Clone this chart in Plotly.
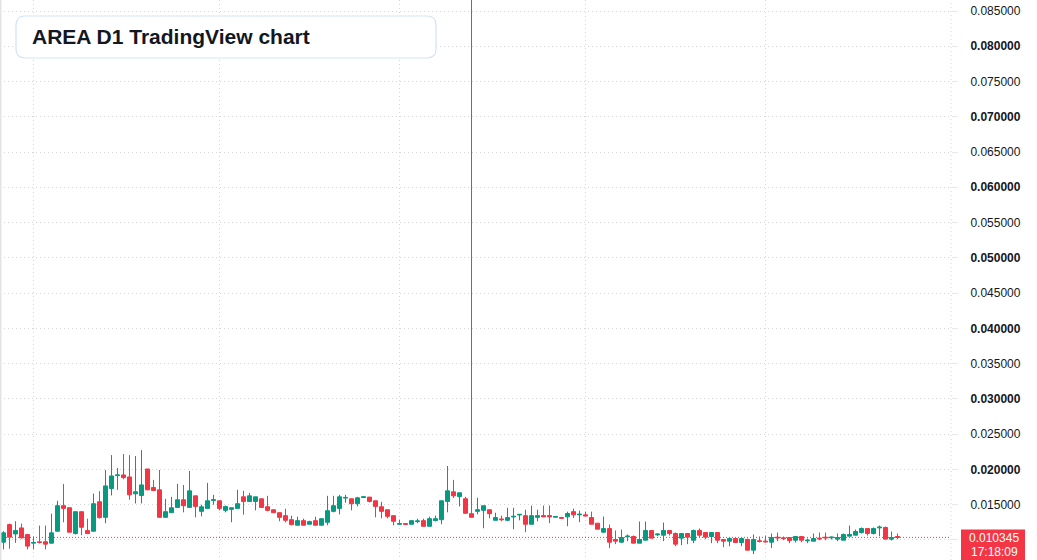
import pandas as pd
import plotly.graph_objects as go

title_text = "AREA D1 TradingView chart"
start_date = "2025-02-24"
last_price = 0.010345
countdown = "17:18:09"

open_ = [0.00967, 0.01216, 0.01084, 0.01169, 0.01075, 0.00953, 0.00972, 0.00972, 0.00953, 0.01122,
         0.01484, 0.01455, 0.01089, 0.01399, 0.01131, 0.01122, 0.0154, 0.01319, 0.01728, 0.01911,
         0.0192, 0.01892, 0.01653, 0.01629, 0.02005, 0.01742, 0.01709, 0.01319, 0.01385, 0.0146,
         0.01568, 0.0146, 0.01624, 0.01404, 0.01446, 0.01559, 0.01554, 0.01418, 0.01432, 0.01446,
         0.0161, 0.01545, 0.01545, 0.01582, 0.01469, 0.01427, 0.01385, 0.01343, 0.01286, 0.01207,
         0.01272, 0.01221, 0.01272, 0.01207, 0.01249, 0.01404, 0.01446, 0.01592, 0.01582, 0.01512,
         0.01601, 0.01606, 0.01554, 0.01469, 0.01427, 0.01343, 0.01221, 0.0123, 0.01221, 0.01258,
         0.01272, 0.01192, 0.01272, 0.01286, 0.01545, 0.01681, 0.01615, 0.01582, 0.01371, 0.01404,
         0.01418, 0.01427, 0.01277, 0.01296, 0.01277, 0.01324, 0.01352, 0.01343, 0.01221, 0.01319,
         0.01344, 0.01344, 0.01321, 0.01316, 0.01326, 0.0140, 0.01354, 0.01354, 0.01316, 0.01236,
         0.01109, 0.0116, 0.01005, 0.00967, 0.01042, 0.01047, 0.00953, 0.00995, 0.01132, 0.01071,
         0.01066, 0.01132, 0.0109, 0.01024, 0.0109, 0.00995, 0.01132, 0.01104, 0.01047, 0.01104,
         0.01005, 0.00981, 0.01019, 0.00962, 0.01005, 0.00854, 0.00986, 0.00981, 0.00967, 0.01038,
         0.01028, 0.01033, 0.00995, 0.01047, 0.00986, 0.00981, 0.01024, 0.01038, 0.01028, 0.0101,
         0.00995, 0.01052, 0.01066, 0.01104, 0.0116, 0.0109, 0.0117, 0.01175, 0.0101, 0.01047]

high = [0.01122, 0.0123, 0.01263, 0.0123, 0.01084, 0.01047, 0.01202, 0.01202, 0.01371, 0.01554,
        0.01793, 0.01455, 0.01399, 0.01399, 0.013, 0.01657, 0.0169, 0.01991, 0.02202, 0.02019,
        0.02216, 0.02202, 0.02188, 0.02272, 0.02005, 0.0185, 0.01991, 0.01582, 0.0161, 0.01793,
        0.01779, 0.01977, 0.01624, 0.01498, 0.01808, 0.01638, 0.01554, 0.01484, 0.01455, 0.01709,
        0.01695, 0.01667, 0.0161, 0.01582, 0.01624, 0.01427, 0.01385, 0.01441, 0.01343, 0.01329,
        0.013, 0.01272, 0.01329, 0.013, 0.01624, 0.01624, 0.01638, 0.01638, 0.01582, 0.0161,
        0.0161, 0.01606, 0.01554, 0.0154, 0.01427, 0.01343, 0.01286, 0.0123, 0.01272, 0.013,
        0.013, 0.01329, 0.01343, 0.01554, 0.02047, 0.0185, 0.01667, 0.0161, 0.095, 0.01596,
        0.01484, 0.01427, 0.01385, 0.01343, 0.01455, 0.01455, 0.01361, 0.01427, 0.01484, 0.01427,
        0.01486, 0.01486, 0.0133, 0.01326, 0.0140, 0.01443, 0.01415, 0.0140, 0.0140, 0.01236,
        0.0133, 0.01217, 0.01132, 0.01146, 0.01076, 0.01061, 0.0126, 0.0126, 0.01132, 0.01094,
        0.01245, 0.01132, 0.01104, 0.0109, 0.0109, 0.01146, 0.0116, 0.01104, 0.01104, 0.01104,
        0.01005, 0.01019, 0.01019, 0.01019, 0.01019, 0.01076, 0.01047, 0.01061, 0.0109, 0.01104,
        0.01047, 0.01033, 0.01047, 0.01047, 0.01019, 0.0109, 0.01104, 0.01104, 0.01047, 0.0109,
        0.0109, 0.01203, 0.01146, 0.01175, 0.0116, 0.01175, 0.01203, 0.01189, 0.01118, 0.0109]

low = [0.00864, 0.00873, 0.00958, 0.01019, 0.00864, 0.00864, 0.00948, 0.00864, 0.00948, 0.0112,
       0.01249, 0.01108, 0.01075, 0.01066, 0.01089, 0.0112, 0.013, 0.01235, 0.01629, 0.01709,
       0.01859, 0.01568, 0.01516, 0.01516, 0.01709, 0.017, 0.01319, 0.01319, 0.01385, 0.0146,
       0.0139, 0.0146, 0.01319, 0.01333, 0.01446, 0.01498, 0.01418, 0.0139, 0.01249, 0.01446,
       0.01357, 0.01545, 0.01418, 0.0146, 0.01404, 0.01385, 0.01263, 0.01249, 0.01207, 0.01207,
       0.01207, 0.01221, 0.01207, 0.01207, 0.01207, 0.0139, 0.01361, 0.01526, 0.01418, 0.01474,
       0.01601, 0.0153, 0.01319, 0.01305, 0.01305, 0.01207, 0.01221, 0.01221, 0.01221, 0.01235,
       0.01192, 0.01192, 0.01263, 0.01221, 0.0139, 0.01592, 0.01474, 0.01376, 0.01319, 0.01361,
       0.01164, 0.01305, 0.01277, 0.01263, 0.01263, 0.0115, 0.01277, 0.01108, 0.01221, 0.01263,
       0.01326, 0.01236, 0.01321, 0.01307, 0.01193, 0.01311, 0.0125, 0.0134, 0.01222, 0.01151,
       0.01094, 0.00882, 0.00939, 0.00953, 0.00981, 0.00953, 0.00953, 0.00995, 0.01024, 0.01052,
       0.00981, 0.01061, 0.0091, 0.00925, 0.00939, 0.00953, 0.01024, 0.0101, 0.00953, 0.00953,
       0.00896, 0.0091, 0.00962, 0.0091, 0.00854, 0.00797, 0.00962, 0.00962, 0.00882, 0.00981,
       0.00995, 0.00953, 0.00962, 0.00967, 0.00953, 0.00981, 0.00995, 0.00995, 0.01005, 0.00981,
       0.00995, 0.01052, 0.01066, 0.0109, 0.01061, 0.01076, 0.01052, 0.0101, 0.0099, 0.0101]

close = [0.01099, 0.01038, 0.01131, 0.01028, 0.00911, 0.00962, 0.00962, 0.00939, 0.01099, 0.01484,
         0.01446, 0.01108, 0.01399, 0.01178, 0.01089, 0.01512, 0.01315, 0.01765, 0.01906, 0.0192,
         0.01883, 0.01638, 0.01681, 0.01779, 0.01709, 0.017, 0.01319, 0.01399, 0.01455, 0.01568,
         0.01484, 0.01695, 0.01474, 0.01469, 0.01554, 0.01568, 0.01446, 0.01474, 0.01455, 0.01512,
         0.01545, 0.01624, 0.0161, 0.0146, 0.01418, 0.01385, 0.01319, 0.01277, 0.01216, 0.01272,
         0.01207, 0.01258, 0.01207, 0.013, 0.01413, 0.01484, 0.0161, 0.01601, 0.01512, 0.01596,
         0.0161, 0.01545, 0.01474, 0.01404, 0.01333, 0.01263, 0.0123, 0.01221, 0.01272, 0.01268,
         0.01192, 0.013, 0.013, 0.01554, 0.01695, 0.01624, 0.01667, 0.01376, 0.01319, 0.01427,
         0.01484, 0.01371, 0.01315, 0.01286, 0.01315, 0.01333, 0.01361, 0.01221, 0.01343, 0.01343,
         0.01326, 0.01326, 0.0133, 0.01307, 0.01373, 0.01354, 0.01363, 0.0134, 0.01222, 0.01151,
         0.0116, 0.00967, 0.00981, 0.01033, 0.01052, 0.00953, 0.01005, 0.01132, 0.01024, 0.01081,
         0.01132, 0.0109, 0.00939, 0.0109, 0.01038, 0.01132, 0.01066, 0.01038, 0.01104, 0.00995,
         0.00981, 0.01019, 0.00962, 0.01019, 0.00854, 0.01005, 0.00977, 0.00972, 0.01033, 0.01028,
         0.01019, 0.0099, 0.01047, 0.00995, 0.00995, 0.01019, 0.01014, 0.01028, 0.01038, 0.01033,
         0.01076, 0.01076, 0.01118, 0.0116, 0.0109, 0.0116, 0.0118, 0.0101, 0.01033, 0.010345]

tick_vals = [0.010, 0.015, 0.020, 0.025, 0.030, 0.035, 0.040, 0.045, 0.050,
             0.055, 0.060, 0.065, 0.070, 0.075, 0.080, 0.085]
tick_text = ["<b>0.010000</b>", "0.015000", "<b>0.020000</b>", "0.025000", "<b>0.030000</b>",
             "0.035000", "<b>0.040000</b>", "0.045000", "<b>0.050000</b>", "0.055000",
             "<b>0.060000</b>", "0.065000", "<b>0.070000</b>", "0.075000", "<b>0.080000</b>",
             "0.085000"]

GREEN = "#089981"
RED = "#F23645"
GRID = "#d3d6dc"
GRID_DASH = "1px,3px"
FONT = "Liberation Sans, Arial, sans-serif"

dates = pd.date_range(start_date, periods=len(close), freq="D")

W, H = 1037, 560
PLOT_W = 951
px_per_day = 6.0
x0 = dates[0] - pd.Timedelta(hours=14)
x1 = x0 + pd.Timedelta(days=PLOT_W / px_per_day)

fig = go.Figure()
fig.add_trace(go.Candlestick(
    x=dates, open=open_, high=high, low=low, close=close,
    increasing=dict(line=dict(color=GREEN, width=1), fillcolor=GREEN),
    decreasing=dict(line=dict(color=RED, width=1), fillcolor=RED),
    whiskerwidth=0, hoverinfo="skip", showlegend=False,
))

shapes = []
# price line
shapes.append(dict(type="line", xref="paper", x0=0, x1=1, yref="y", y0=last_price, y1=last_price,
                   line=dict(color=RED, width=1, dash="1px,2px"), layer="above"))
# right border dotted
shapes.append(dict(type="line", xref="paper", x0=1, x1=1, yref="paper", y0=0, y1=1,
                   line=dict(color=GRID, width=1, dash=GRID_DASH), layer="below"))
# left edge strip
shapes.append(dict(type="line", xref="paper", x0=0, x1=0, yref="paper", y0=0, y1=1,
                   line=dict(color="#e3e3e3", width=3), layer="above"))
# rounded title box (pixel-sized, anchored at top-left of plot)
bx0, by0, bx1, by1, r = 16, -16, 436, -58, 9
path = (f"M{bx0 + r},{by0} L{bx1 - r},{by0} Q{bx1},{by0} {bx1},{by0 - r} "
        f"L{bx1},{by1 + r} Q{bx1},{by1} {bx1 - r},{by1} L{bx0 + r},{by1} "
        f"Q{bx0},{by1} {bx0},{by1 + r} L{bx0},{by0 - r} Q{bx0},{by0} {bx0 + r},{by0} Z")
shapes.append(dict(type="path", xref="paper", yref="paper", xsizemode="pixel", ysizemode="pixel",
                   xanchor=0, yanchor=1, path=path, fillcolor="white",
                   line=dict(color="#d3e3f6", width=1.2), layer="above"))
# price label background (pixel-sized, anchored at the last price)
shapes.append(dict(type="rect", xref="paper", yref="y", xsizemode="pixel", ysizemode="pixel",
                   xanchor=1, yanchor=last_price, x0=961 - PLOT_W, x1=1025 - PLOT_W,
                   y0=8, y1=-30, fillcolor=RED, line=dict(width=0), layer="above"))

annotations = [
    dict(text=f"<b>{title_text}</b>", xref="paper", yref="paper", x=30 / PLOT_W, y=1 - 37 / H,
         xanchor="left", yanchor="middle", showarrow=False,
         font=dict(family=FONT, size=21, color="#131722")),
    dict(text=f"{last_price:.6f}", xref="paper", yref="y",
         x=994 / PLOT_W, y=last_price, xanchor="center", yanchor="middle", yshift=-1,
         showarrow=False, borderpad=0, font=dict(family=FONT, size=12, color="white")),
    dict(text=countdown, xref="paper", yref="y",
         x=994 / PLOT_W, y=last_price, xanchor="center", yanchor="middle", yshift=-15,
         showarrow=False, borderpad=0, font=dict(family=FONT, size=12, color="white")),
]

fig.update_layout(
    width=W, height=H,
    margin=dict(l=0, r=W - PLOT_W, t=0, b=0),
    paper_bgcolor="white", plot_bgcolor="white",
    shapes=shapes, annotations=annotations,
    boxgap=0.3, boxgroupgap=0.05,
    xaxis=dict(type="date", range=[x0, x1], rangeslider=dict(visible=False),
               showticklabels=False, ticks="", tick0="2025-03-01", dtick="M1",
               showgrid=True, gridcolor=GRID, griddash=GRID_DASH, gridwidth=1,
               zeroline=False, showline=False, fixedrange=True),
    yaxis=dict(side="right", range=[0.00714, 0.08656], tickvals=tick_vals, ticktext=tick_text,
               showgrid=True, gridcolor=GRID, griddash=GRID_DASH, gridwidth=1,
               ticks="outside", ticklen=6, tickcolor="#e6e8ec", ticklabelstandoff=10,
               tickfont=dict(family=FONT, size=12, color="#131722"),
               zeroline=False, showline=False, fixedrange=True),
    font=dict(family=FONT),
    hovermode=False,
)

fig.write_html("out.html", config={"displayModeBar": False})
